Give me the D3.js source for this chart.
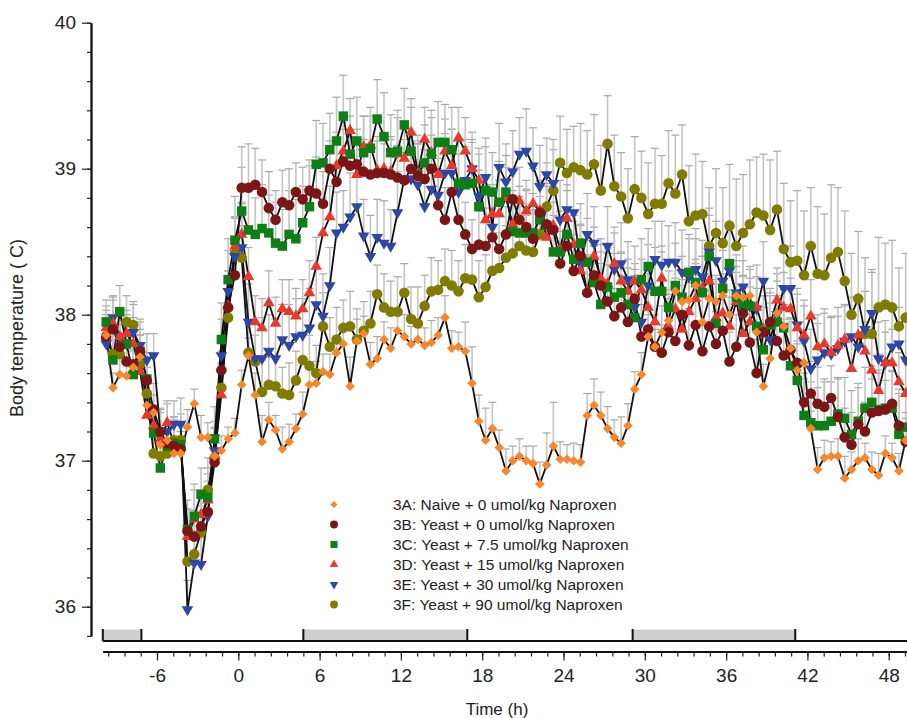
<!DOCTYPE html>
<html>
<head>
<meta charset="utf-8"/>
<script src="https://d3js.org/d3.v7.min.js"></script>
<style>
    body { margin: 0; background: #fff; }
    svg { font-family: "Liberation Sans", Arial, Helvetica, sans-serif; background: #fff; }
</style>
</head>
<body>
<svg id="chart" width="907" height="718"></svg>
<script>
// sampling grid: one point every half hour, -9.75 h to 49.25 h
var hours = d3.range(-9.75, 49.5, 0.5);

var seriesNames = [
    "3A: Naive + 0 umol/kg Naproxen",
    "3B: Yeast + 0 umol/kg Naproxen",
    "3C: Yeast + 7.5 umol/kg Naproxen",
    "3D: Yeast + 15 umol/kg Naproxen",
    "3E: Yeast + 30 umol/kg Naproxen",
    "3F: Yeast + 90 umol/kg Naproxen"
];

var tempA = [37.86, 37.50, 37.59, 37.58, 37.64, 37.71,
    37.38, 37.33, 37.11, 37.14, 37.05, 37.05,
    37.23, 37.39, 37.16, 37.16, 37.03, 37.07, 37.15, 37.19,
    37.52, 37.72, 37.45, 37.13, 37.28, 37.21, 37.08, 37.13, 37.22, 37.32,
    37.52, 37.53, 37.61, 37.59, 37.74, 37.80, 37.51, 37.82, 37.87, 37.66,
    37.70, 37.83, 37.77, 37.89, 37.85, 37.80, 37.83, 37.79, 37.81, 37.86,
    37.98, 37.77, 37.78, 37.75, 37.53, 37.27, 37.14, 37.22, 37.09, 36.93,
    37.00, 37.03, 37.00, 36.98, 36.84, 36.97, 37.10, 37.01, 37.01, 37.00,
    36.99, 37.31, 37.38, 37.31, 37.22, 37.16, 37.12, 37.24, 37.49, 37.59,
    37.85, 37.78, 37.88, 37.96, 38.16, 38.09, 38.10, 38.20, 37.95, 38.11,
    38.09, 38.13, 38.00, 38.13, 38.12, 38.13, 37.88, 37.51, 37.70, 38.01,
    37.92, 37.77, 37.62, 37.67, 37.22, 36.94, 37.02, 37.03, 37.03, 36.88,
    36.94, 37.00, 37.02, 36.94, 36.90, 37.05, 37.02, 36.93, 37.14];

var tempB = [37.85, 37.90, 37.78, 37.68, 37.66, 37.75,
    37.55, 37.35, 37.20, 37.12, 37.10, 37.08,
    36.52, 36.48, 36.55, 36.65, 36.99, 37.62, 38.05, 38.27,
    38.87, 38.87, 38.89, 38.84, 38.73, 38.65, 38.77, 38.75, 38.84, 38.79,
    38.85, 38.83, 38.76, 39.00, 38.91, 39.05, 39.02, 39.03, 38.98, 38.96,
    38.97, 38.97, 38.96, 38.94, 38.92, 39.00, 38.95, 38.93, 39.00, 38.75,
    38.65, 38.84, 38.65, 38.55, 38.45, 38.48, 38.47, 38.53, 38.45, 38.55,
    38.79, 38.65, 38.60, 38.52, 38.70, 38.62, 38.58, 38.35, 38.47, 38.30,
    38.40, 38.15, 38.27, 38.20, 38.09, 37.99, 38.05, 37.95, 38.11, 37.85,
    37.90, 37.78, 37.74, 37.88, 37.82, 38.00, 37.79, 37.93, 37.75, 37.92,
    37.80, 37.89, 37.68, 37.78, 38.01, 37.81, 37.60, 37.88, 37.95, 37.82,
    37.72, 37.76, 37.67, 37.40, 37.46, 37.39, 37.37, 37.43, 37.30, 37.16,
    37.11, 37.25, 37.20, 37.33, 37.34, 37.35, 37.39, 37.24, 37.13];

var tempC = [37.95, 37.69, 38.02, 37.80, 37.59, 37.75,
    37.56, 37.19, 36.95, 37.10, 37.12, 37.11,
    36.53, 36.62, 36.77, 36.75, 37.15, 37.83, 38.24, 38.51,
    38.71, 38.58, 38.55, 38.59, 38.56, 38.49, 38.47, 38.55, 38.52, 38.63,
    38.74, 39.03, 39.04, 39.13, 39.19, 39.36, 39.10, 39.19, 39.11, 39.14,
    39.34, 39.22, 39.11, 39.12, 39.30, 39.12, 38.96, 39.04, 39.10, 39.18,
    39.18, 39.13, 38.90, 38.89, 38.90, 38.74, 38.85, 38.84, 38.77, 38.84,
    38.57, 38.56, 38.56, 38.56, 38.65, 38.61, 38.43, 38.43, 38.55, 38.38,
    38.49, 38.36, 38.22, 38.07, 38.19, 38.12, 38.15, 38.07, 37.98, 38.24,
    38.33, 38.16, 38.16, 38.05, 38.20, 38.12, 38.29, 38.22, 38.15, 38.40,
    37.94, 38.18, 38.35, 38.12, 38.07, 38.06, 37.92, 37.76, 37.93, 37.95,
    37.91, 37.65, 37.55, 37.31, 37.26, 37.24, 37.24, 37.27, 37.32, 37.29,
    37.18, 37.27, 37.36, 37.40, 37.35, 37.36, 37.36, 37.18, 37.23];

var tempD = [37.91, 37.94, 37.85, 37.87, 37.80, 37.61,
    37.31, 37.24, 37.15, 37.26, 37.12, 37.10,
    36.48, 36.60, 36.63, 36.73, 37.03, 37.45, 38.06, 38.47,
    38.55, 38.26, 37.95, 37.91, 38.08, 37.94, 38.04, 38.02, 37.99, 38.04,
    38.15, 38.33, 38.56, 38.67, 39.02, 39.12, 39.26, 38.96, 39.15, 39.16,
    38.99, 39.00, 38.98, 39.10, 39.07, 39.25, 38.97, 39.20, 39.11, 38.96,
    39.12, 39.02, 39.21, 39.12, 39.00, 38.92, 38.65, 38.69, 38.69, 38.80,
    38.62, 38.78, 38.71, 38.76, 38.71, 38.53, 38.61, 38.45, 38.66, 38.48,
    38.30, 38.16, 38.40, 38.25, 38.21, 38.35, 38.23, 38.16, 38.23, 38.17,
    38.05, 37.95, 38.25, 37.92, 38.04, 37.90, 38.02, 38.11, 38.18, 38.23,
    37.98, 38.01, 37.92, 38.09, 37.87, 37.95, 38.05, 37.90, 37.93, 38.10,
    38.05, 38.04, 37.91, 37.86, 37.99, 37.78, 37.80, 37.74, 37.79, 37.83,
    37.63, 37.86, 37.75, 37.62, 37.48, 37.67, 37.67, 37.54, 37.46];

var tempE = [37.80, 37.98, 37.85, 37.80, 37.88, 37.79,
    37.69, 37.72, 37.19, 37.20, 37.25, 37.25,
    35.98, 36.30, 36.29, 36.62, 37.07, 37.72, 38.16, 38.40,
    38.46, 37.95, 37.70, 37.70, 37.75, 37.70, 37.83, 37.79, 37.85, 37.86,
    37.91, 38.07, 37.99, 38.20, 38.56, 38.60, 38.67, 38.74, 38.54, 38.40,
    38.53, 38.49, 38.47, 38.70, 38.93, 38.93, 38.89, 38.74, 38.86, 38.82,
    38.97, 38.97, 38.84, 38.92, 39.00, 38.81, 38.94, 38.60, 39.01, 38.91,
    38.98, 39.10, 39.12, 39.02, 38.88, 38.96, 38.90, 38.65, 38.72, 38.70,
    38.35, 38.55, 38.49, 38.22, 38.47, 38.31, 38.35, 38.24, 38.05, 37.95,
    38.20, 38.38, 38.34, 38.36, 38.36, 38.29, 38.26, 38.31, 38.26, 38.43,
    38.37, 38.23, 38.30, 38.15, 38.19, 38.06, 38.04, 38.23, 37.83, 38.00,
    38.18, 38.18, 37.93, 37.82, 37.63, 37.69, 37.74, 37.73, 37.77, 37.82,
    37.85, 37.78, 37.90, 38.01, 37.70, 37.67, 37.78, 37.80, 37.69];

var tempF = [37.83, 37.73, 37.73, 37.95, 37.93, 37.66,
    37.46, 37.05, 37.03, 37.05, 37.14, 37.14,
    36.31, 36.36, 36.51, 36.80, 37.02, 37.50, 37.98, 38.42,
    38.39, 37.74, 37.68, 37.47, 37.52, 37.51, 37.46, 37.45, 37.55, 37.69,
    37.65, 37.60, 37.92, 37.78, 37.83, 37.91, 37.92, 37.83, 37.89, 37.94,
    38.14, 38.05, 38.02, 38.02, 38.15, 37.97, 37.94, 38.06, 38.16, 38.17,
    38.23, 38.20, 38.16, 38.25, 38.24, 38.12, 38.19, 38.30, 38.32, 38.39,
    38.42, 38.47, 38.44, 38.43, 38.55, 38.74, 38.85, 39.04, 38.97, 39.01,
    38.99, 38.96, 39.03, 38.85, 39.17, 38.88, 38.81, 38.66, 38.86, 38.80,
    38.69, 38.76, 38.76, 38.90, 38.83, 38.96, 38.64, 38.68, 38.69, 38.47,
    38.56, 38.49, 38.61, 38.47, 38.56, 38.62, 38.70, 38.68, 38.58, 38.72,
    38.45, 38.36, 38.37, 38.27, 38.47, 38.28, 38.27, 38.39, 38.43, 38.23,
    38.00, 38.11, 37.87, 37.87, 38.05, 38.07, 38.05, 37.92, 37.98];

// upper error (SEM) for each point
var errA = [.12, .10, .14, .10, .12, .15,
    .10, .12, .10, .08, .10, .12,
    .12, .10, .15, .10, .12, .10, .08, .10,
    .10, .12, .15, .18, .12, .10, .15, .12, .10, .15,
    .12, .15, .12, .14, .10, .12, .20, .15, .12, .15,
    .15, .12, .14, .12, .15, .12, .10, .12, .15, .12,
    .15, .12, .10, .20, .25, .18, .22, .18, .12, .15,
    .10, .12, .10, .12, .15, .22, .30, .12, .10, .12,
    .12, .15, .18, .16, .15, .12, .18, .15, .12, .15,
    .15, .12, .18, .15, .20, .15, .12, .18, .20, .15,
    .18, .15, .12, .20, .15, .12, .18, .15, .20, .12,
    .15, .20, .18, .15, .12, .15, .12, .10, .12, .15,
    .12, .15, .10, .12, .15, .12, .10, .12, .15];

var errB = [.18, .20, .15, .18, .20, .15,
    .15, .18, .15, .12, .15, .12,
    .15, .18, .20, .15, .18, .20, .25, .22,
    .28, .30, .25, .22, .25, .20, .22, .25, .20, .22,
    .21, .25, .22, .19, .26, .22, .20, .24, .22, .19,
    .22, .20, .26, .22, .19, .25, .22, .20, .23, .25,
    .22, .19, .25, .22, .20, .23, .26, .20, .22, .19,
    .20, .23, .25, .20, .22, .26, .19, .22, .20, .25,
    .22, .26, .20, .23, .25, .19, .22, .26, .20, .22,
    .25, .22, .19, .26, .22, .20, .25, .23, .19, .25,
    .22, .26, .20, .22, .25, .19, .23, .25, .20, .22,
    .25, .22, .26, .20, .22, .25, .19, .22, .26, .20,
    .22, .25, .20, .23, .26, .20, .22, .25, .20];

var errC = [.15, .22, .18, .20, .16, .22,
    .18, .15, .20, .15, .18, .15,
    .20, .22, .18, .20, .22, .25, .28, .30,
    .30, .28, .25, .30, .26, .28, .25, .30, .27, .25,
    .28, .30, .27, .25, .30, .28, .26, .30, .25, .28,
    .27, .30, .26, .28, .25, .30, .27, .26, .30, .28,
    .26, .29, .30, .26, .28, .25, .30, .27, .28, .25,
    .28, .25, .30, .27, .26, .29, .25, .28, .30, .26,
    .27, .30, .25, .28, .26, .30, .27, .25, .29, .28,
    .26, .30, .27, .25, .29, .28, .26, .30, .25, .28,
    .30, .26, .28, .25, .30, .27, .26, .29, .25, .28,
    .26, .30, .27, .25, .28, .26, .30, .27, .25, .28,
    .30, .26, .28, .25, .27, .30, .26, .28, .25];

var errD = [.15, .18, .14, .16, .18, .15,
    .16, .14, .18, .15, .16, .14,
    .18, .20, .16, .18, .20, .22, .24, .20,
    .22, .20, .18, .20, .22, .18, .20, .22, .19, .20,
    .22, .20, .24, .21, .23, .20, .22, .25, .21, .20,
    .23, .20, .22, .25, .21, .23, .20, .22, .24, .20,
    .22, .25, .21, .23, .20, .22, .24, .20, .23, .21,
    .20, .23, .21, .24, .20, .22, .25, .21, .23, .20,
    .22, .24, .20, .23, .21, .25, .20, .22, .24, .21,
    .23, .20, .22, .25, .21, .23, .20, .24, .22, .20,
    .23, .21, .25, .20, .22, .24, .21, .23, .20, .22,
    .24, .21, .23, .20, .25, .22, .21, .24, .20, .23,
    .21, .24, .20, .22, .25, .21, .23, .20, .22];

var errE = [.18, .15, .20, .17, .19, .16,
    .18, .15, .17, .19, .16, .18,
    .20, .22, .18, .24, .20, .25, .28, .26,
    .30, .26, .24, .28, .25, .27, .24, .28, .26, .25,
    .27, .25, .29, .26, .28, .25, .30, .27, .25, .28,
    .26, .29, .25, .28, .27, .25, .30, .26, .28, .25,
    .27, .30, .26, .28, .25, .29, .27, .25, .30, .26,
    .28, .25, .29, .26, .28, .25, .30, .27, .25, .29,
    .26, .28, .25, .30, .27, .25, .28, .26, .30, .25,
    .28, .26, .30, .25, .27, .29, .26, .28, .25, .30,
    .27, .25, .29, .26, .28, .25, .30, .27, .25, .28,
    .26, .29, .25, .28, .27, .25, .30, .26, .28, .25,
    .27, .30, .26, .28, .25, .29, .27, .25, .28];

var errF = [.17, .20, .15, .18, .16, .20,
    .18, .15, .17, .20, .16, .18,
    .20, .24, .18, .22, .20, .25, .28, .25,
    .22, .20, .18, .22, .19, .21, .18, .22, .20, .19,
    .21, .19, .23, .20, .22, .19, .24, .21, .20, .22,
    .20, .23, .21, .24, .20, .22, .25, .21, .23, .20,
    .22, .24, .21, .23, .20, .25, .22, .21, .24, .22,
    .25, .27, .24, .28, .26, .30, .28, .32, .30, .28,
    .32, .30, .34, .31, .33, .35, .30, .34, .36, .32,
    .35, .38, .33, .36, .40, .34, .38, .42, .36, .40,
    .44, .38, .42, .46, .40, .44, .38, .42, .48, .40,
    .45, .42, .48, .44, .40, .46, .42, .50, .44, .48,
    .42, .46, .52, .44, .48, .42, .46, .40, .44];

var yTickLabels = [36, 37, 38, 39, 40];
var xTickLabels = [-6, 0, 6, 12, 18, 24, 30, 36, 42, 48];
var darkPeriods = [[-10, -7.15], [4.8, 16.9], [29.1, 41.1]];

var colors = ["#f7862c", "#7c1616", "#0d7f14", "#e8392b", "#2c47a6", "#7f7c00"];
var symbols = [d3.symbolSquare, d3.symbolCircle, d3.symbolSquare, d3.symbolTriangle, d3.symbolTriangle, d3.symbolCircle];
var symbolSizes = [46, 88, 90, 58, 58, 88];
var symbolRotate = [45, 0, 0, 0, 180, 0];

var temps = [tempA, tempB, tempC, tempD, tempE, tempF];
var errs = [errA, errB, errC, errD, errE, errF];

var series = seriesNames.map(function (name, i) {
    return {
        name: name,
        idx: i,
        points: hours.map(function (h, j) {
            return {t: h, v: temps[i][j], e: errs[i][j]};
        }).filter(function (d) { return d.v !== undefined; })
    };
});

var svg = d3.select("#chart");

var x = d3.scaleLinear().domain([-10, 49.4]).range([102.8, 907.7]);
var y = d3.scaleLinear().domain([35.8, 40]).range([635.9, 22.7]);

// ---- y axis ----
var yMinor = svg.append("g").attr("transform", "translate(91,0)")
    .call(d3.axisLeft(y).tickValues(d3.range(0, 22).map(function (k) { return 35.8 + k * 0.2; }))
        .tickSize(4).tickSizeOuter(0).tickFormat(""));
var yMajor = svg.append("g").attr("transform", "translate(91,0)")
    .call(d3.axisLeft(y).tickValues(yTickLabels).tickSize(9).tickSizeOuter(0).tickPadding(6)
        .tickFormat(d3.format("d")));
[yMinor, yMajor].forEach(function (g) {
    g.selectAll("path.domain").attr("stroke", "#111").attr("stroke-width", 1.8);
    g.selectAll(".tick line").attr("stroke", "#222").attr("stroke-width", 1.2);
});
yMajor.selectAll(".tick text").attr("font-size", 19).attr("fill", "#222")
    .attr("font-family", "Liberation Sans, Arial, sans-serif");

svg.append("text")
    .attr("transform", "translate(23,328) rotate(-90)")
    .attr("text-anchor", "middle")
    .attr("font-size", 18)
    .attr("fill", "#222")
    .text("Body temperature ( C)");

// ---- light/dark bar ----
var barTop = 629.5, barBottom = 641;
svg.selectAll("rect.dark").data(darkPeriods).enter().append("rect")
    .attr("class", "dark")
    .attr("x", function (d) { return x(d[0]); })
    .attr("y", barTop)
    .attr("width", function (d) { return x(d[1]) - x(d[0]); })
    .attr("height", barBottom - barTop)
    .attr("fill", "#cfcfcf");
svg.append("line")
    .attr("x1", x(-10)).attr("x2", 907).attr("y1", barBottom).attr("y2", barBottom)
    .attr("stroke", "#111").attr("stroke-width", 1.8);
var edges = [];
darkPeriods.forEach(function (d) { edges.push(d[0], d[1]); });
svg.selectAll("line.edge").data(edges).enter().append("line")
    .attr("class", "edge")
    .attr("x1", function (d) { return x(d); }).attr("x2", function (d) { return x(d); })
    .attr("y1", barTop - 0.5).attr("y2", barBottom)
    .attr("stroke", "#111").attr("stroke-width", 2);

// ---- x axis ----
var xMinor = svg.append("g").attr("transform", "translate(0,651.5)")
    .call(d3.axisBottom(x).tickValues(d3.range(0, 50).map(function (k) { return -9.6 + k * 1.2; }))
        .tickSize(5).tickSizeOuter(0).tickFormat(""));
var xMajor = svg.append("g").attr("transform", "translate(0,651.5)")
    .call(d3.axisBottom(x).tickValues(xTickLabels).tickSize(9).tickSizeOuter(0).tickPadding(8)
        .tickFormat(d3.format("d")));
[xMinor, xMajor].forEach(function (g) {
    g.selectAll("path.domain").attr("stroke", "#111").attr("stroke-width", 1.8);
    g.selectAll(".tick line").attr("stroke", "#222").attr("stroke-width", 1.2);
});
xMajor.selectAll(".tick text").attr("font-size", 19).attr("fill", "#222")
    .attr("font-family", "Liberation Sans, Arial, sans-serif")
    .text(function (d) { return d < 0 ? "-" + Math.abs(d) : d; });

svg.append("text")
    .attr("x", 497).attr("y", 715)
    .attr("text-anchor", "middle")
    .attr("font-size", 17)
    .attr("fill", "#222")
    .text("Time (h)");

// ---- error bars ----
var drawOrder = [5, 4, 3, 2, 1, 0];
var errG = svg.append("g");
drawOrder.forEach(function (i) {
    var g = errG.append("g");
    g.selectAll("line.stem").data(series[i].points).enter().append("line")
        .attr("x1", function (d) { return x(d.t); })
        .attr("x2", function (d) { return x(d.t); })
        .attr("y1", function (d) { return y(d.v); })
        .attr("y2", function (d) { return y(d.v + d.e); })
        .attr("stroke", "#c4c4c4").attr("stroke-width", 1.6);
    g.selectAll("line.cap").data(series[i].points).enter().append("line")
        .attr("x1", function (d) { return x(d.t) - 4; })
        .attr("x2", function (d) { return x(d.t) + 4; })
        .attr("y1", function (d) { return y(d.v + d.e); })
        .attr("y2", function (d) { return y(d.v + d.e); })
        .attr("stroke", "#a8a8a8").attr("stroke-width", 1.2);
});

// ---- lines + markers ----
var line = d3.line().x(function (d) { return x(d.t); }).y(function (d) { return y(d.v); });
drawOrder.forEach(function (i) {
    var s = series[i];
    svg.append("path").datum(s.points)
        .attr("d", line)
        .attr("fill", "none")
        .attr("stroke", "#111")
        .attr("stroke-width", 1.8)
        .attr("stroke-linejoin", "round");
});
drawOrder.forEach(function (i) {
    var s = series[i];
    var sym = d3.symbol().type(symbols[i]).size(symbolSizes[i]);
    svg.append("g").selectAll("path").data(s.points).enter().append("path")
        .attr("d", sym)
        .attr("transform", function (d) {
            return "translate(" + x(d.t) + "," + y(d.v) + ") rotate(" + symbolRotate[i] + ")";
        })
        .attr("fill", colors[i]);
});

// ---- legend ----
var legend = svg.append("g");
series.forEach(function (s, i) {
    var ly = 504.5 + i * 20;
    legend.append("path")
        .attr("d", d3.symbol().type(symbols[i]).size(symbolSizes[i] * 0.55)())
        .attr("transform", "translate(334," + ly + ") rotate(" + symbolRotate[i] + ")")
        .attr("fill", colors[i]);
    legend.append("text")
        .attr("x", 393).attr("y", ly + 5.5)
        .attr("font-size", 15.5)
        .attr("fill", "#222")
        .text(s.name);
});
</script>
</body>
</html>
